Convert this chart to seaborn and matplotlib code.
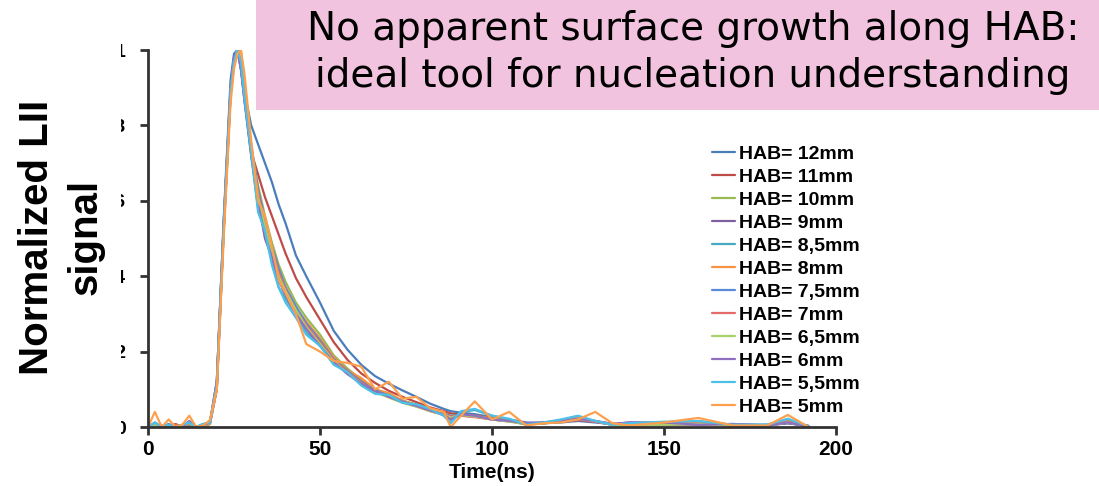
import matplotlib
matplotlib.use("Agg")
import matplotlib.pyplot as plt
from matplotlib.patches import Rectangle
import seaborn as sns
import pandas as pd

# === Data ===
time_ns = [0, 2, 4, 6, 8, 10, 12, 14, 16, 18,
           20, 22, 24, 25, 26, 27, 28,
           30, 32, 34, 36, 38, 40,
           43, 46, 50, 54, 58, 62, 66, 70, 74, 78, 82, 86, 88, 91, 95,
           100, 105, 110, 115, 120, 125, 130, 135, 140,
           150, 160, 170, 180, 186, 192]

hab_labels = ["HAB= 12mm", "HAB= 11mm", "HAB= 10mm", "HAB= 9mm", "HAB= 8,5mm", "HAB= 8mm",
              "HAB= 7,5mm", "HAB= 7mm", "HAB= 6,5mm", "HAB= 6mm", "HAB= 5,5mm", "HAB= 5mm"]

hab_12 = [0.0, 0.004, 0.0, 0.008, 0.0, 0.004, 0.01, 0.0, 0.004, 0.01,
          0.12, 0.55, 0.92, 0.99, 1.0, 0.95, 0.89,
          0.80, 0.75, 0.70, 0.65, 0.59, 0.54,
          0.455, 0.40, 0.33, 0.255, 0.205, 0.165, 0.135, 0.115, 0.097, 0.08, 0.062, 0.048, 0.042, 0.038, 0.034,
          0.026, 0.02, 0.012, 0.01, 0.012, 0.016, 0.012, 0.008, 0.006,
          0.008, 0.006, 0.005, 0.006, 0.01, 0.003]
hab_11 = [0.0, 0.0, 0.004, 0.0, 0.008, 0.0, 0.004, 0.0, 0.0, 0.008,
          0.10, 0.52, 0.88, 0.96, 1.0, 0.97, 0.89,
          0.73, 0.67, 0.61, 0.56, 0.51, 0.46,
          0.395, 0.345, 0.285, 0.225, 0.178, 0.142, 0.117, 0.096, 0.08, 0.066, 0.052, 0.042, 0.036, 0.033, 0.03,
          0.024, 0.018, 0.01, 0.01, 0.014, 0.018, 0.014, 0.008, 0.006,
          0.006, 0.01, 0.005, 0.004, 0.012, 0.003]
hab_10 = [0.0, 0.005, 0.0, 0.0, 0.005, 0.0, 0.008, 0.0, 0.005, 0.01,
          0.11, 0.53, 0.89, 0.97, 1.0, 0.96, 0.88,
          0.74, 0.64, 0.56, 0.49, 0.43, 0.385,
          0.33, 0.29, 0.245, 0.19, 0.155, 0.125, 0.10, 0.085, 0.07, 0.06, 0.045, 0.036, 0.03, 0.03, 0.028,
          0.022, 0.016, 0.008, 0.01, 0.016, 0.022, 0.015, 0.006, 0.004,
          0.005, 0.008, 0.004, 0.005, 0.012, 0.002]
hab_9 = [0.0, 0.01, 0.0, 0.005, 0.0, 0.0, 0.015, 0.0, 0.004, 0.012,
         0.12, 0.54, 0.90, 0.98, 1.0, 0.95, 0.87,
         0.72, 0.60, 0.50, 0.45, 0.39, 0.35,
         0.30, 0.265, 0.22, 0.18, 0.15, 0.12, 0.10, 0.082, 0.068, 0.058, 0.046, 0.035, 0.026, 0.034, 0.03,
         0.02, 0.015, 0.01, 0.012, 0.014, 0.02, 0.016, 0.008, 0.012,
         0.01, 0.006, 0.008, 0.004, 0.01, 0.002]
hab_8_5 = [0.0, 0.008, 0.0, 0.004, 0.0, 0.006, 0.01, 0.0, 0.008, 0.01,
           0.11, 0.53, 0.89, 0.97, 1.0, 0.96, 0.87,
           0.72, 0.58, 0.52, 0.44, 0.37, 0.34,
           0.30, 0.25, 0.22, 0.17, 0.15, 0.115, 0.09, 0.085, 0.065, 0.06, 0.048, 0.03, 0.012, 0.04, 0.045,
           0.03, 0.02, 0.006, 0.012, 0.018, 0.028, 0.015, 0.006, 0.008,
           0.012, 0.015, 0.006, 0.006, 0.02, 0.002]
hab_8 = [0.0, 0.006, 0.0, 0.0, 0.004, 0.0, 0.012, 0.0, 0.0, 0.008,
         0.10, 0.52, 0.88, 0.96, 0.99, 1.0, 0.92,
         0.74, 0.62, 0.54, 0.47, 0.41, 0.37,
         0.315, 0.28, 0.235, 0.185, 0.15, 0.13, 0.10, 0.09, 0.07, 0.058, 0.045, 0.04, 0.022, 0.03, 0.03,
         0.022, 0.016, 0.006, 0.01, 0.014, 0.024, 0.016, 0.006, 0.004,
         0.008, 0.01, 0.004, 0.004, 0.015, 0.002]
hab_7_5 = [0.0, 0.004, 0.0, 0.006, 0.0, 0.0, 0.008, 0.0, 0.006, 0.01,
           0.11, 0.53, 0.89, 0.97, 1.0, 0.96, 0.88,
           0.75, 0.63, 0.55, 0.48, 0.42, 0.37,
           0.32, 0.275, 0.23, 0.18, 0.148, 0.12, 0.098, 0.082, 0.068, 0.056, 0.044, 0.034, 0.03, 0.03, 0.028,
           0.02, 0.016, 0.01, 0.01, 0.015, 0.02, 0.014, 0.006, 0.006,
           0.006, 0.008, 0.005, 0.004, 0.012, 0.002]
hab_7 = [0.0, 0.006, 0.0, 0.0, 0.006, 0.0, 0.01, 0.0, 0.004, 0.012,
         0.10, 0.52, 0.88, 0.97, 1.0, 0.96, 0.88,
         0.74, 0.62, 0.54, 0.47, 0.41, 0.365,
         0.31, 0.27, 0.225, 0.178, 0.145, 0.118, 0.095, 0.08, 0.066, 0.055, 0.042, 0.033, 0.028, 0.03, 0.026,
         0.02, 0.015, 0.008, 0.01, 0.016, 0.02, 0.014, 0.006, 0.005,
         0.006, 0.008, 0.004, 0.005, 0.014, 0.002]
hab_6_5 = [0.0, 0.005, 0.0, 0.004, 0.0, 0.004, 0.01, 0.0, 0.005, 0.01,
           0.11, 0.53, 0.89, 0.97, 1.0, 0.96, 0.88,
           0.74, 0.61, 0.53, 0.46, 0.40, 0.36,
           0.31, 0.265, 0.22, 0.175, 0.142, 0.115, 0.093, 0.078, 0.064, 0.054, 0.042, 0.032, 0.025, 0.032, 0.028,
           0.02, 0.014, 0.008, 0.01, 0.018, 0.022, 0.016, 0.006, 0.006,
           0.006, 0.008, 0.005, 0.004, 0.012, 0.002]
hab_6 = [0.0, 0.012, 0.0, 0.006, 0.0, 0.0, 0.016, 0.0, 0.004, 0.012,
         0.12, 0.54, 0.90, 0.98, 1.0, 0.95, 0.87,
         0.73, 0.59, 0.51, 0.45, 0.39, 0.35,
         0.30, 0.26, 0.215, 0.172, 0.14, 0.115, 0.095, 0.08, 0.066, 0.056, 0.044, 0.032, 0.02, 0.034, 0.03,
         0.02, 0.016, 0.01, 0.012, 0.016, 0.022, 0.016, 0.008, 0.012,
         0.012, 0.006, 0.008, 0.004, 0.012, 0.002]
hab_5_5 = [0.0, 0.012, 0.0, 0.006, 0.0, 0.006, 0.012, 0.0, 0.008, 0.012,
           0.11, 0.53, 0.89, 0.97, 1.0, 0.97, 0.88,
           0.73, 0.57, 0.52, 0.43, 0.37, 0.33,
           0.29, 0.245, 0.215, 0.165, 0.145, 0.11, 0.088, 0.085, 0.064, 0.06, 0.048, 0.03, 0.01, 0.042, 0.048,
           0.03, 0.022, 0.006, 0.012, 0.02, 0.03, 0.016, 0.006, 0.01,
           0.014, 0.016, 0.006, 0.006, 0.022, 0.002]
hab_5 = [0.0, 0.04, 0.0, 0.02, 0.0, 0.006, 0.03, 0.0, 0.004, 0.018,
         0.10, 0.50, 0.86, 0.95, 0.99, 1.0, 0.94,
         0.76, 0.60, 0.56, 0.48, 0.39, 0.355,
         0.30, 0.22, 0.20, 0.175, 0.17, 0.16, 0.10, 0.12, 0.075, 0.08, 0.05, 0.04, 0.0, 0.03, 0.068,
         0.02, 0.04, 0.004, 0.01, 0.012, 0.02, 0.04, 0.01, 0.004,
         0.012, 0.024, 0.004, 0.004, 0.032, 0.0]

series = [hab_12, hab_11, hab_10, hab_9, hab_8_5, hab_8,
          hab_7_5, hab_7, hab_6_5, hab_6, hab_5_5, hab_5]

colors = ["#4A7EBB", "#BE4B48", "#98B954", "#7D60A0", "#46AAC5", "#F69240",
          "#5A8BD8", "#E36C6A", "#A8D16A", "#8E6FC0", "#4DC0E8", "#FDA04E"]

x_ticks = [0, 50, 100, 150, 200]
y_ticks = [0, 0.2, 0.4, 0.6, 0.8, 1]
y_tick_labels = ["0", "0,2", "0,4", "0,6", "0,8", "1"]

title_lines = ["No apparent surface growth along HAB:",
               "ideal tool for nucleation understanding"]

# === Build long table ===
rows = []
for label, vals in zip(hab_labels, series):
    for t, v in zip(time_ns, vals):
        rows.append({"time": t, "signal": v, "HAB": label})
df = pd.DataFrame(rows)

# === Plot ===
sns.set_theme(style="ticks")
plt.rcParams["font.family"] = ["Liberation Sans", "DejaVu Sans"]
plt.rcParams["text.color"] = "black"
plt.rcParams["axes.labelcolor"] = "black"

W, H = 1099, 486
fig = plt.figure(figsize=(W / 100, H / 100), dpi=100)
ax = fig.add_axes([148 / W, 59 / H, 688 / W, 377 / H])

sns.lineplot(data=df, x="time", y="signal", hue="HAB", hue_order=hab_labels,
             palette=colors, linewidth=1.6, estimator=None, ax=ax)

ax.set_xlim(0, 200)
ax.set_ylim(0, 1)
ax.set_xticks(x_ticks)
ax.set_xticklabels([str(v) for v in x_ticks])
ax.set_yticks(y_ticks)
ax.set_yticklabels(y_tick_labels)
for lbl in ax.get_xticklabels() + ax.get_yticklabels():
    lbl.set_fontweight("bold")
ax.tick_params(axis="both", direction="out", length=6, width=2, color="#333333",
               labelsize=15, labelcolor="black")
ax.tick_params(axis="y", pad=10, labelsize=14)
ax.tick_params(axis="x", pad=3)
sns.despine(ax=ax)
for side in ["left", "bottom"]:
    ax.spines[side].set_linewidth(2)
    ax.spines[side].set_color("#333333")

ax.set_xlabel("Time(ns)", fontsize=15, fontweight="bold", labelpad=3)
ax.set_ylabel("")

handles, labels = ax.get_legend_handles_labels()
ax.legend_.remove()
fig.legend(handles, labels, loc="upper left", bbox_to_anchor=(712 / W, 1 - 145 / H),
           frameon=False, borderpad=0, borderaxespad=0, labelspacing=0.28,
           handlelength=1.2, handletextpad=0.2, labelcolor="black",
           prop={"weight": "bold", "size": 14})

# white block hiding the left part of the y tick labels (as in the slide)
fig.patches.append(Rectangle((0, 30 / H), 120.5 / W, 420 / H, transform=fig.transFigure,
                             facecolor="white", edgecolor="none", zorder=1))

fig.text(37 / W, 1 - 237 / H, "Normalized LII", rotation=90, ha="center", va="center",
         fontsize=29, fontweight="bold", zorder=2)
fig.text(86 / W, 1 - 237 / H, "signal", rotation=90, ha="center", va="center",
         fontsize=29, fontweight="bold", zorder=2)

# pink callout box
fig.patches.append(Rectangle((256 / W, 1 - 110 / H), (W - 256) / W, 110 / H,
                             transform=fig.transFigure, facecolor="#F1C3DE",
                             edgecolor="none", zorder=3))
for txt, base_y in zip(title_lines, [40, 87]):
    fig.text(693 / W, 1 - base_y / H, txt, ha="center", va="baseline", fontsize=28,
             family=["DejaVu Sans"], color="black", zorder=4)

fig.savefig("out.png", dpi=100)
